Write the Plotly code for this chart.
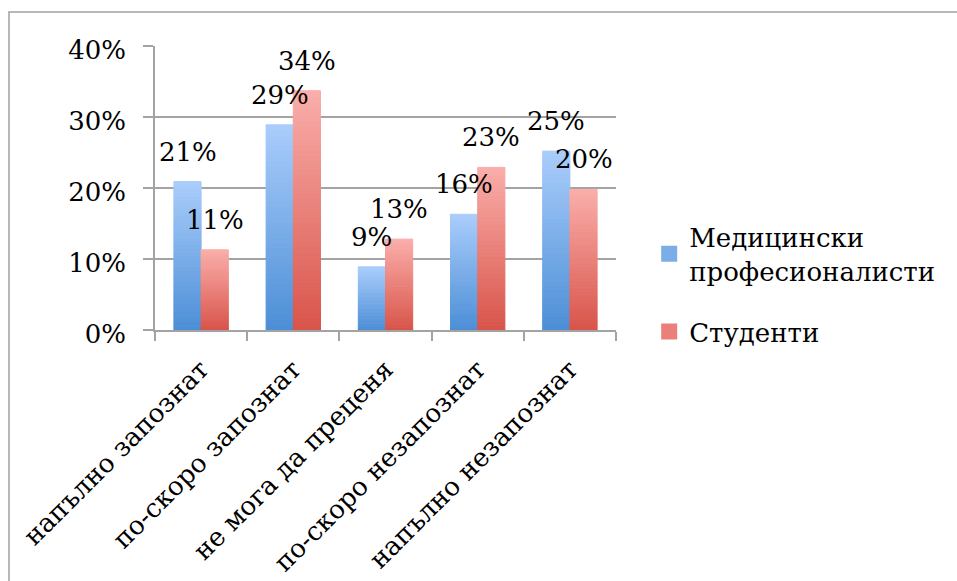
import numpy as np
import plotly.graph_objects as go

# Survey answers (share of respondents per answer)
categories = ["напълно запознат", "по-скоро запознат", "не мога да преценя",
              "по-скоро незапознат", "напълно незапознат"]
series_names = ["Медицински<br>професионалисти", "Студенти"]
medics = [0.209, 0.289, 0.089, 0.163, 0.252]
students = [0.113, 0.337, 0.128, 0.229, 0.198]

FONT = "DejaVu Serif"
FS = 26
GRID = "#a3a3a3"

# light (top) -> dark (bottom) colours for each series
gradients = [((170, 205, 251), (76, 142, 214)),
             ((250, 174, 170), (216, 84, 74))]

BARGAP = 0.41
N_SLICES = 40

fig = go.Figure()


def mix(c_top, c_bot, t):
    r, g, b = (round(a + (c - a) * t) for a, c in zip(c_bot, c_top))
    return f"rgb({r},{g},{b})"


# each bar is built from stacked slices so it gets a vertical gradient
for s, (vals, name) in enumerate(zip([medics, students], series_names)):
    v = np.asarray(vals)
    top, bot = gradients[s]
    for k in range(N_SLICES):
        col = mix(top, bot, (k + 0.5) / N_SLICES)
        fig.add_trace(go.Bar(
            x=categories, y=v / N_SLICES, base=v * k / N_SLICES,
            offsetgroup=str(s), legendgroup=str(s),
            marker=dict(color=col, line=dict(color=col, width=1)),
            showlegend=False, hoverinfo="skip",
        ))
    # legend entry for the series: a square swatch
    fig.add_trace(go.Scatter(
        x=[None], y=[None], name=name, legendgroup=str(s), mode="markers",
        marker=dict(symbol="square", size=16, color=mix(top, bot, 0.5)),
        showlegend=True,
    ))

# value labels above the bars
half = (1 - BARGAP) / 4
for s, vals in enumerate([medics, students]):
    off = -half if s == 0 else half
    for i, v in enumerate(vals):
        fig.add_annotation(x=i + off, y=v, xref="x", yref="y",
                           text=f"{v:.0%}", showarrow=False,
                           yanchor="middle", yshift=30,
                           font=dict(family=FONT, size=FS, color="black"))

# outer chart frame
fig.add_shape(type="rect", xref="paper", yref="paper",
              x0=(9 - 155) / 461, x1=2.5, y0=-3, y1=1 + (46 - 12) / 284,
              line=dict(color="#a0a0a0", width=1.5), fillcolor="rgba(0,0,0,0)")

fig.update_layout(
    width=957, height=581,
    margin=dict(l=155, r=341, t=46, b=251, autoexpand=False),
    paper_bgcolor="white", plot_bgcolor="white",
    barmode="group", bargap=BARGAP, bargroupgap=0,
    font=dict(family=FONT, size=FS, color="black"),
    legend=dict(x=1.072, y=0.41, xanchor="left", yanchor="top",
                traceorder="grouped", font=dict(family=FONT, size=FS),
                itemsizing="trace", itemwidth=30, tracegroupgap=24),
    xaxis=dict(type="category", showline=True, linecolor=GRID, linewidth=1.5,
               ticks="outside", ticklen=9, tickcolor=GRID, tickwidth=1.5,
               tickson="boundaries", tickangle=-45, showgrid=False,
               ticklabelstandoff=12, automargin=False,
               tickfont=dict(family=FONT, size=FS)),
    yaxis=dict(range=[0, 0.4], dtick=0.1, tickformat=".0%",
               showline=True, linecolor=GRID, linewidth=1.5,
               ticks="outside", ticklen=10, tickcolor=GRID, tickwidth=1.5,
               showgrid=True, gridcolor=GRID, gridwidth=1.5,
               zeroline=False, ticklabelstandoff=12, ticklabelshift=4,
               automargin=False,
               tickfont=dict(family=FONT, size=FS)),
)

fig.write_html("out.html")
